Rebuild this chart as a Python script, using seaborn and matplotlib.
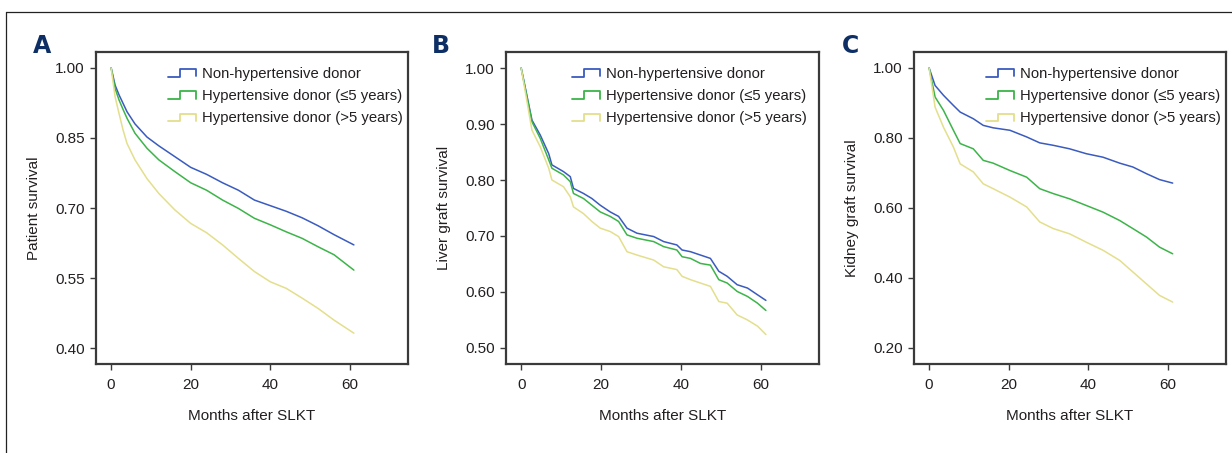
import numpy as np
import pandas as pd
import matplotlib
matplotlib.use("Agg")
import matplotlib.pyplot as plt
from matplotlib.lines import Line2D
from matplotlib.legend_handler import HandlerBase
import seaborn as sns

groups = ["Non-hypertensive donor", "Hypertensive donor (\u22645 years)", "Hypertensive donor (>5 years)"]
colors = ["#3a5bbf", "#3cb449", "#e3df8c"]

# Panel A: patient survival
a_months = [0, 1, 2, 3, 4, 6, 9, 12, 16, 20, 24, 28, 32, 36, 40, 44, 48, 52, 56, 61]
a_non = [1.0, 0.963, 0.942, 0.924, 0.906, 0.880, 0.852, 0.833, 0.810, 0.787, 0.772, 0.754, 0.738, 0.717, 0.705, 0.693, 0.679, 0.662, 0.643, 0.621]
a_le5 = [1.0, 0.956, 0.931, 0.911, 0.892, 0.860, 0.828, 0.803, 0.778, 0.754, 0.738, 0.717, 0.699, 0.678, 0.664, 0.649, 0.635, 0.617, 0.600, 0.567]
a_gt5 = [1.0, 0.938, 0.902, 0.867, 0.838, 0.803, 0.763, 0.731, 0.696, 0.667, 0.647, 0.621, 0.592, 0.564, 0.542, 0.528, 0.507, 0.485, 0.460, 0.432]

# Panel B: liver graft survival
b_months = [0, 2.7, 4.8, 6.9, 7.7, 10.6, 12.3, 13.1, 15.6, 17.7, 19.8, 22.3, 24.4, 26.5, 29, 33.2, 35.7, 39, 40.3, 42.4, 44.9, 47.4, 49.5, 51.6, 54.1, 56.7, 59.2, 61.3]
b_non = [1.0, 0.907, 0.880, 0.847, 0.827, 0.815, 0.806, 0.785, 0.776, 0.767, 0.755, 0.743, 0.735, 0.714, 0.705, 0.699, 0.690, 0.684, 0.675, 0.672, 0.666, 0.660, 0.637, 0.628, 0.613, 0.607, 0.595, 0.585]
b_le5 = [1.0, 0.904, 0.874, 0.836, 0.821, 0.809, 0.797, 0.776, 0.767, 0.755, 0.743, 0.735, 0.726, 0.702, 0.696, 0.690, 0.681, 0.675, 0.663, 0.660, 0.651, 0.648, 0.622, 0.616, 0.601, 0.592, 0.580, 0.567]
b_gt5 = [1.0, 0.889, 0.859, 0.821, 0.800, 0.788, 0.770, 0.752, 0.740, 0.726, 0.714, 0.708, 0.699, 0.672, 0.666, 0.657, 0.645, 0.640, 0.628, 0.622, 0.616, 0.610, 0.583, 0.580, 0.559, 0.550, 0.539, 0.524]

# Panel C: kidney graft survival
c_months = [0, 1.5, 3.6, 6.1, 7.8, 11.1, 13.6, 16.1, 20.3, 24.5, 27.8, 31.2, 35.3, 39.5, 43.7, 47.9, 51.2, 54.6, 57.9, 61.2]
c_non = [1.0, 0.950, 0.922, 0.893, 0.874, 0.855, 0.836, 0.829, 0.822, 0.803, 0.786, 0.779, 0.769, 0.755, 0.745, 0.728, 0.717, 0.698, 0.681, 0.671]
c_le5 = [1.0, 0.917, 0.879, 0.822, 0.784, 0.769, 0.736, 0.728, 0.707, 0.688, 0.655, 0.641, 0.626, 0.607, 0.588, 0.564, 0.541, 0.517, 0.488, 0.469]
c_gt5 = [1.0, 0.888, 0.831, 0.774, 0.726, 0.703, 0.669, 0.655, 0.631, 0.603, 0.560, 0.541, 0.526, 0.502, 0.479, 0.450, 0.417, 0.383, 0.350, 0.331]

panel_letters = ["A", "B", "C"]
y_labels = ["Patient survival", "Liver graft survival", "Kidney graft survival"]
x_label = "Months after SLKT"
x_ticks = [0, 20, 40, 60]
a_yticks = [0.40, 0.55, 0.70, 0.85, 1.00]
b_yticks = [0.50, 0.60, 0.70, 0.80, 0.90, 1.00]
c_yticks = [0.20, 0.40, 0.60, 0.80, 1.00]


def long_df(months, series):
    rows = []
    for g, vals in zip(groups, series):
        for m, v in zip(months, vals):
            rows.append((m, v, g))
    return pd.DataFrame(rows, columns=["month", "surv", "group"])


panels = [
    (long_df(a_months, [a_non, a_le5, a_gt5]), a_yticks, (0.366, 1.034)),
    (long_df(b_months, [b_non, b_le5, b_gt5]), b_yticks, (0.4714, 1.0286)),
    (long_df(c_months, [c_non, c_le5, c_gt5]), c_yticks, (0.154, 1.0457)),
]

sns.set_theme(style="white")
FONT = ["Liberation Sans", "DejaVu Sans"]
plt.rcParams["font.family"] = FONT
plt.rcParams["text.color"] = "#231f20"
plt.rcParams["axes.labelcolor"] = "#231f20"


class StepHandler(HandlerBase):
    def create_artists(self, legend, orig_handle, xdescent, ydescent, width, height, fontsize, trans):
        x0 = -xdescent
        y0 = -ydescent
        lo = y0 + height * 0.1
        hi = y0 + height * 0.85
        xs = [x0, x0 + width * 0.45, x0 + width * 0.45, x0 + width, x0 + width]
        ys = [lo, lo, hi, hi, lo + height * 0.05]
        ln = Line2D(xs, ys, color=orig_handle.get_color(), lw=1.3, transform=trans)
        return [ln]


fig = plt.figure(figsize=(12.32, 4.53), dpi=100)
lefts = [96, 506, 914]
widths = [312, 313, 312]
legend_x = [168, 572, 986]
letter_x = [33, 432, 842]
W, H = 1232, 453
FS = 11
LFS = 10.75

for i, (df, yt, ylim) in enumerate(panels):
    ax = fig.add_axes([lefts[i] / W, (H - 364) / H, widths[i] / W, 312 / H])
    sns.lineplot(data=df, x="month", y="surv", hue="group", hue_order=groups,
                 palette=colors, ax=ax, linewidth=1.1, legend=False, estimator=None)
    ax.set_xlim(-3.8, 74.6)
    ax.set_ylim(*ylim)
    ax.set_xticks(x_ticks)
    ax.set_yticks(yt)
    ax.set_yticklabels([f"{v:.2f}" for v in yt])
    ax.set_xlabel(x_label, fontsize=FS, labelpad=12)
    ax.set_ylabel(y_labels[i], fontsize=FS, labelpad=10)
    for sp in ax.spines.values():
        sp.set_color("#3a3a3a")
        sp.set_linewidth(1.6)
        sp.set_visible(True)
    ax.tick_params(axis="both", which="major", direction="out", length=4, width=1,
                   color="#3a3a3a", labelsize=FS, labelcolor="#231f20", pad=4,
                   left=True, bottom=True)
    ax.tick_params(axis="x", pad=6)
    handles = [Line2D([0], [0], color=c) for c in colors]
    ax.legend(handles, groups, loc="upper left",
              bbox_to_anchor=((legend_x[i] - lefts[i]) / widths[i], 1 - 15 / 312),
              frameon=False, fontsize=LFS, handlelength=1.85, handletextpad=0.4,
              labelspacing=0.55, borderaxespad=0.0, borderpad=0.0,
              handler_map={Line2D: StepHandler()})
    fig.text(letter_x[i] / W, (H - 53) / H, panel_letters[i], fontsize=17,
             fontweight="bold", color="#0d2f66", family=["DejaVu Sans"], ha="left", va="baseline")

# outer frame lines (top and left)
fig.add_artist(Line2D([6 / W, 1.0], [(H - 12) / H, (H - 12) / H], color="#222222", lw=0.9,
                      transform=fig.transFigure))
fig.add_artist(Line2D([6 / W, 6 / W], [0, (H - 12) / H], color="#222222", lw=0.9,
                      transform=fig.transFigure))

fig.savefig("out.png", dpi=100)
